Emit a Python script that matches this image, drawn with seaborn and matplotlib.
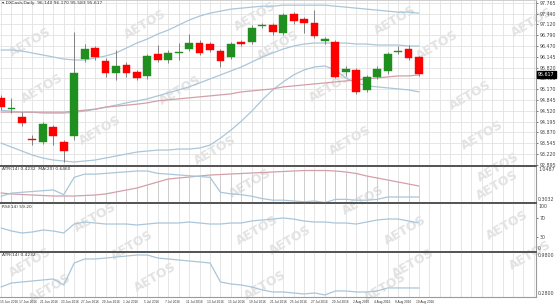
import matplotlib
matplotlib.use("Agg")
import matplotlib.pyplot as plt
import matplotlib.transforms as mtransforms
import seaborn as sns
import numpy as np
import pandas as pd

sns.set_theme(style="white")
plt.rcParams['font.family'] = ['DejaVu Sans']

# ---------------- data ----------------
chart_title = "DXCash,Daily  96.140 96.170 95.583 95.617"
open_ = [94.91, 94.59, 94.33, 93.66, 93.58, 94.03, 93.58, 93.76, 96.08, 96.41, 96.02, 95.66, 95.90, 95.69,
         95.57, 96.23, 96.05, 96.26, 96.38, 96.56, 96.53, 96.32, 96.14, 96.59, 96.59, 97.07, 97.10, 96.86,
         97.43, 97.28, 97.16, 96.62, 96.59, 95.69, 95.75, 95.15, 95.54, 95.72, 96.29, 96.38, 96.14]
close = [94.64, 94.62, 94.15, 93.63, 94.12, 93.76, 93.31, 95.66, 96.38, 96.14, 95.66, 95.87, 95.66, 95.51,
         96.17, 96.05, 96.26, 96.29, 96.56, 96.26, 96.35, 96.02, 96.53, 96.53, 97.01, 97.09, 96.89, 97.40,
         97.22, 97.16, 96.77, 96.68, 95.54, 95.78, 95.09, 95.54, 95.78, 96.23, 96.32, 96.11, 95.617]
high = [95.00, 94.91, 94.48, 93.79, 94.18, 94.09, 93.64, 96.89, 96.53, 96.47, 96.11, 96.35, 95.99, 95.75,
        96.23, 96.50, 96.35, 96.56, 96.83, 96.65, 96.59, 96.38, 96.59, 96.65, 97.10, 97.16, 97.16, 97.46,
        97.49, 97.34, 97.55, 96.74, 96.65, 95.87, 95.81, 95.60, 95.87, 96.29, 96.47, 96.50, 96.17]
low = [94.54, 94.45, 94.06, 93.49, 93.52, 93.49, 92.98, 93.64, 95.99, 96.05, 95.54, 95.45, 95.54, 95.45,
       95.48, 95.99, 95.96, 96.05, 96.32, 96.20, 96.29, 95.84, 96.08, 96.47, 96.53, 97.01, 96.80, 96.80,
       97.13, 96.86, 96.71, 96.53, 95.51, 95.57, 95.03, 95.09, 95.48, 95.63, 96.23, 96.05, 95.583]

band_upper = [96.35, 96.35, 96.32, 96.26, 96.20, 96.14, 96.08, 96.05, 96.05, 96.11, 96.17, 96.26, 96.41, 96.56,
              96.68, 96.83, 96.95, 97.10, 97.25, 97.37, 97.46, 97.52, 97.58, 97.61, 97.64, 97.67, 97.67, 97.70,
              97.70, 97.70, 97.70, 97.70, 97.67, 97.64, 97.61, 97.58, 97.55, 97.52, 97.49, 97.49, 97.46]
band_mid = [94.54, 94.51, 94.48, 94.48, 94.45, 94.45, 94.45, 94.48, 94.51, 94.57, 94.63, 94.69, 94.76, 94.82,
            94.88, 94.97, 95.06, 95.15, 95.24, 95.36, 95.48, 95.60, 95.72, 95.84, 95.99, 96.14, 96.26, 96.38,
            96.47, 96.53, 96.56, 96.56, 96.56, 96.56, 96.53, 96.53, 96.50, 96.50, 96.50, 96.47, 96.47]
band_lower = [93.55, 93.43, 93.31, 93.19, 93.10, 93.04, 93.01, 92.98, 93.01, 93.04, 93.10, 93.16, 93.22, 93.28,
              93.31, 93.34, 93.34, 93.37, 93.37, 93.40, 93.49, 93.70, 93.94, 94.21, 94.51, 94.85, 95.15, 95.39,
              95.60, 95.75, 95.84, 95.87, 95.75, 95.51, 95.36, 95.27, 95.24, 95.21, 95.18, 95.15, 95.09]
ma_slow = [94.48, 94.48, 94.48, 94.48, 94.48, 94.48, 94.48, 94.51, 94.54, 94.57, 94.63, 94.66, 94.69, 94.72,
           94.76, 94.82, 94.85, 94.88, 94.91, 94.94, 94.97, 95.00, 95.03, 95.09, 95.12, 95.15, 95.18, 95.24,
           95.27, 95.30, 95.33, 95.36, 95.39, 95.42, 95.45, 95.48, 95.51, 95.54, 95.57, 95.57, 95.60]

atr = [0.439, 0.503, 0.519, 0.535, 0.551, 0.567, 0.471, 0.821, 0.885, 0.885, 0.900, 0.916, 0.932, 0.948,
       0.948, 0.900, 0.885, 0.869, 0.853, 0.837, 0.821, 0.519, 0.487, 0.471, 0.439, 0.392, 0.360, 0.360,
       0.344, 0.328, 0.344, 0.312, 0.376, 0.376, 0.360, 0.360, 0.376, 0.424, 0.424, 0.424, 0.4232]
atr_ma = [0.505, 0.485, 0.474, 0.464, 0.454, 0.444, 0.444, 0.444, 0.454, 0.464, 0.485, 0.525, 0.565, 0.605,
          0.666, 0.726, 0.787, 0.807, 0.827, 0.847, 0.867, 0.877, 0.888, 0.898, 0.908, 0.918, 0.928, 0.938,
          0.948, 0.958, 0.958, 0.958, 0.948, 0.928, 0.898, 0.847, 0.807, 0.767, 0.726, 0.686, 0.646]
rsi = [49.0, 42.9, 38.8, 40.8, 44.9, 42.9, 38.8, 57.1, 61.2, 59.2, 57.1, 57.1, 57.1, 55.1, 57.1, 59.2, 59.2,
       59.2, 61.2, 59.2, 57.1, 57.1, 59.2, 59.2, 63.3, 65.3, 67.3, 69.4, 67.3, 63.3, 61.2, 61.2, 59.2, 59.2,
       57.1, 61.2, 65.3, 67.3, 67.3, 63.3, 59.2]

price_ticks = [97.765, 97.440, 97.120, 96.790, 96.470, 96.145, 95.820, 95.495, 95.170, 94.845,
               94.520, 94.195, 93.870, 93.545, 93.220, 92.895]
date_labels = ["15 Jun 2016", "17 Jun 2016", "21 Jun 2016", "23 Jun 2016", "27 Jun 2016", "29 Jun 2016",
               "1 Jul 2016", "5 Jul 2016", "7 Jul 2016", "11 Jul 2016", "13 Jul 2016", "15 Jul 2016",
               "19 Jul 2016", "21 Jul 2016", "25 Jul 2016", "27 Jul 2016", "29 Jul 2016", "2 Aug 2016",
               "4 Aug 2016", "8 Aug 2016", "10 Aug 2016"]
panel2_label = "ATR(14) 0.4232  MA(20) 0.6460"
panel3_label = "RSI(14) 59.20"
panel4_label = "ATR(14) 0.4232"
watermark = "AETOS"

# ---------------- build ----------------
n = len(close)
bars = np.arange(n)
df = pd.DataFrame({"bar": bars, "open": open_, "close": close, "high": high, "low": low,
                   "upper": band_upper, "mid": band_mid, "lower": band_lower, "ma": ma_slow,
                   "atr": atr, "atr_ma": atr_ma, "rsi": rsi})

W, H = 560, 305
fig = plt.figure(figsize=(W / 100, H / 100), dpi=100)
fig.patch.set_facecolor("white")

# watermarks behind everything
wm_pos = [(30, 42), (42, 88), (145, 24), (180, 90), (255, 16), (278, 45), (330, 87), (395, 20), (437, 45),
          (470, 95), (532, 22), (482, 135), (498, 167), (215, 150), (100, 130), (350, 140), (95, 217),
          (250, 183), (257, 230), (363, 200), (405, 230), (497, 185), (507, 225), (30, 262), (132, 245),
          (155, 277), (290, 240), (413, 263), (530, 255), (50, 288), (265, 285), (385, 287)]
for (px, py) in wm_pos:
    fig.text(px / W, 1 - py / H, watermark, rotation=30, ha="center", va="center",
             fontsize=9, fontweight="bold", color="#e2e2e2", zorder=-5)

def rect(y0, y1):
    return [0.0, 1 - y1 / H, 536 / W, (y1 - y0) / H]

ax1 = fig.add_axes(rect(0, 166))
ax2 = fig.add_axes(rect(166, 203))
ax3 = fig.add_axes(rect(203, 252))
ax4 = fig.add_axes(rect(252, 297))
axes = [ax1, ax2, ax3, ax4]

tick_fs = 3.4
for ax in axes:
    ax.set_facecolor("none")
    ax.set_xlim(-0.1, 51.2)
    ax.set_xticks(np.arange(0, 52))
    ax.grid(axis="x", color="#e2e2e2", lw=0.6)
    ax.tick_params(axis="x", length=0, labelbottom=False)
    ax.yaxis.tick_right()
    ax.tick_params(axis="y", length=1.5, width=0.5, pad=1, labelsize=tick_fs, colors="#444")
    ax.spines["left"].set_visible(False)
    ax.spines["right"].set_color("#9a9a9a")
    ax.spines["right"].set_linewidth(0.8)
    for s in ("top", "bottom"):
        ax.spines[s].set_color("#555555")
        ax.spines[s].set_linewidth(1.3)
ax1.spines["top"].set_color("#cccccc")
ax4.spines["bottom"].set_color("#9a9a9a")
ax4.spines["bottom"].set_linewidth(0.8)

# ---- main price panel ----
ax1.set_ylim(92.86, 97.855)
ax1.set_yticks(price_ticks)
ax1.set_yticklabels([f"{v:.3f}" for v in price_ticks])
ax1.grid(axis="y", color="#e2e2e2", lw=0.6)

band_col = "#aac6d8"
pink = "#d2a0a8"
for col, c in (("upper", band_col), ("mid", band_col), ("lower", band_col), ("ma", pink)):
    sns.lineplot(data=df, x="bar", y=col, ax=ax1, color=c, lw=0.9, legend=False, errorbar=None, zorder=2)

up = df["close"] >= df["open"]
colors = np.where(up, "#1f8f1f", "#ff0000")
ax1.vlines(df["bar"], df["low"], df["high"], color="#808080", lw=0.7, zorder=3)
bottoms = np.minimum(df["open"], df["close"])
heights = np.maximum(np.abs(df["close"] - df["open"]), 0.03)
ax1.bar(df["bar"], heights, bottom=bottoms, width=0.75, color=colors, edgecolor=colors, lw=0.3, zorder=4)
ax1.set_xlim(-0.1, 51.2)
ax1.set_xlabel("")
ax1.set_ylabel("")

ax1.text(0.003, 0.995, "\u25BE " + chart_title, transform=ax1.transAxes, ha="left", va="top",
         fontsize=3.2, color="#333")
bt = mtransforms.blended_transform_factory(ax1.transAxes, ax1.transData)
ax1.text(1.004, close[-1], f"{close[-1]:.3f}", transform=bt, ha="left", va="center", fontsize=tick_fs,
         color="white", bbox=dict(boxstyle="square,pad=0.2", fc="black", ec="black"), zorder=10)

# ---- panel 2 (ATR with MA) ----
ax2.set_ylim(0.303, 1.049)
ax2.vlines(df["bar"], 0.303, df["atr_ma"], color="#c4c4c4", lw=0.5, zorder=1)
sns.lineplot(data=df, x="bar", y="atr_ma", ax=ax2, color=pink, lw=0.9, legend=False, errorbar=None, zorder=3)
sns.lineplot(data=df, x="bar", y="atr", ax=ax2, color=band_col, lw=0.9, legend=False, errorbar=None, zorder=3)
ax2.set_yticks([])
ax2.set_xlim(-0.1, 51.2)
ax2.set_xlabel(""); ax2.set_ylabel("")
ax2.text(0.003, 0.96, panel2_label, transform=ax2.transAxes, ha="left", va="top", fontsize=3.2, color="#333")
ax2.text(1.004, 0.97, "1.0487", transform=ax2.transAxes, ha="left", va="top", fontsize=tick_fs, color="#444")
ax2.text(1.004, 0.03, "0.3032", transform=ax2.transAxes, ha="left", va="bottom", fontsize=tick_fs, color="#444")

# ---- panel 3 (RSI) ----
ax3.set_ylim(0, 100)
sns.lineplot(data=df, x="bar", y="rsi", ax=ax3, color=band_col, lw=0.9, legend=False, errorbar=None)
ax3.set_yticks([70, 30])
ax3.set_xlim(-0.1, 51.2)
ax3.set_xlabel(""); ax3.set_ylabel("")
ax3.text(0.003, 0.96, panel3_label, transform=ax3.transAxes, ha="left", va="top", fontsize=3.2, color="#333")
ax3.text(1.004, 0.98, "100", transform=ax3.transAxes, ha="left", va="top", fontsize=tick_fs, color="#444")
ax3.text(1.004, 0.02, "0", transform=ax3.transAxes, ha="left", va="bottom", fontsize=tick_fs, color="#444")

# ---- panel 4 (ATR) ----
ax4.set_ylim(0.28, 0.996)
sns.lineplot(data=df, x="bar", y="atr", ax=ax4, color=band_col, lw=0.9, legend=False, errorbar=None)
ax4.set_yticks([])
ax4.set_xlim(-0.1, 51.2)
ax4.set_xlabel(""); ax4.set_ylabel("")
ax4.text(0.003, 0.97, panel4_label, transform=ax4.transAxes, ha="left", va="top", fontsize=3.2, color="#333")
ax4.text(1.004, 0.97, "0.9800", transform=ax4.transAxes, ha="left", va="top", fontsize=tick_fs, color="#444")
ax4.text(1.004, 0.03, "0.2800", transform=ax4.transAxes, ha="left", va="bottom", fontsize=tick_fs, color="#444")

# date labels every 2 bars (narrow font so they fit like the reference)
dt = mtransforms.blended_transform_factory(ax4.transData, ax4.transAxes)
for k, lab in enumerate(date_labels):
    xpos = max(bars[2 * k] - 0.3, -0.08)
    ax4.text(xpos, -0.06, lab, transform=dt, ha="left", va="top", fontsize=2.3,
             family=["Liberation Sans", "DejaVu Sans"], color="#333")

fig.savefig("out.png", dpi=100, facecolor="white")
